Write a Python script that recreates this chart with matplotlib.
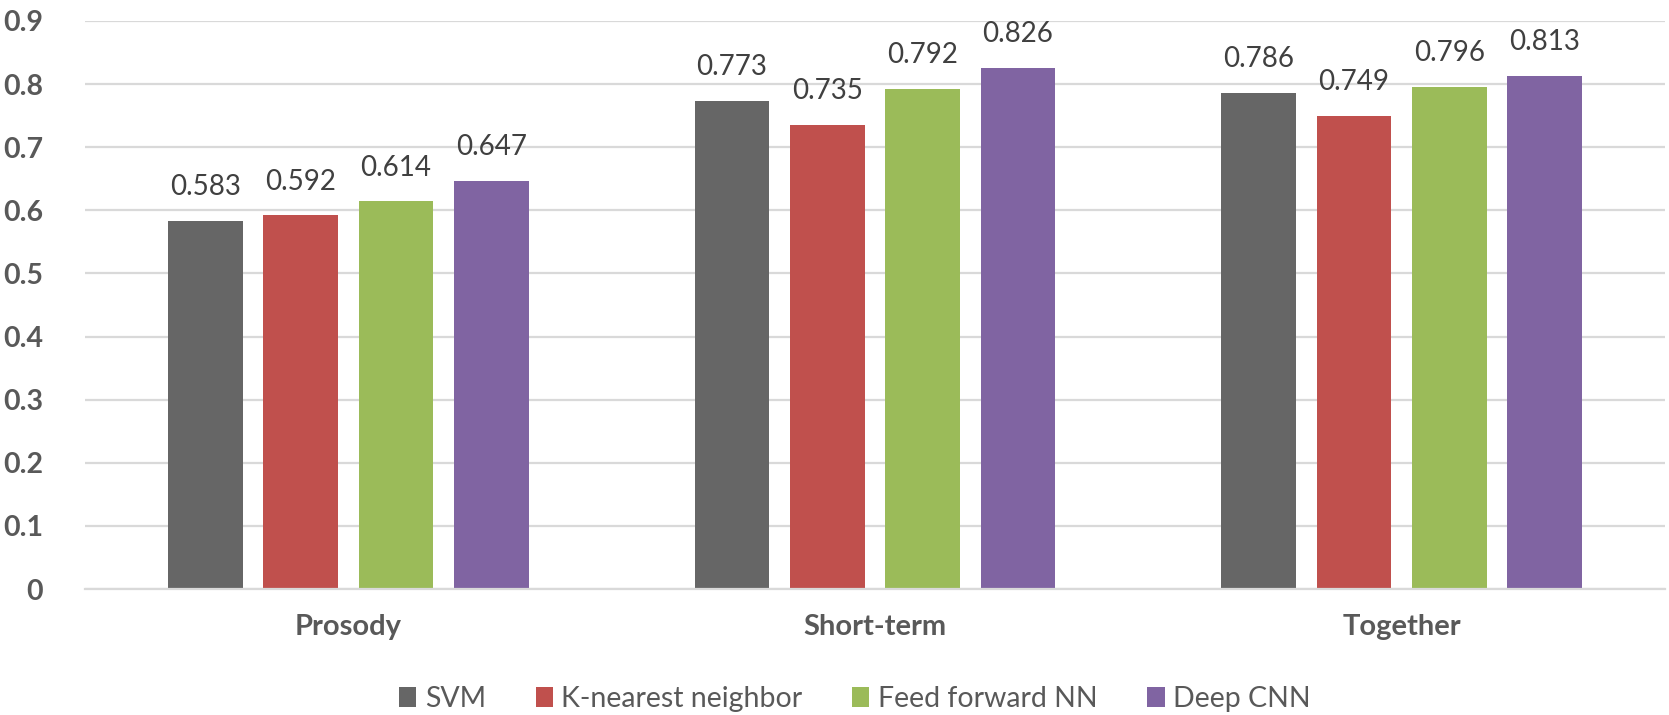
import matplotlib
matplotlib.use("Agg")
import matplotlib.pyplot as plt
import numpy as np

categories = ["Prosody", "Short-term", "Together"]
series_names = ["SVM", "K-nearest neighbor", "Feed forward NN", "Deep CNN"]
svm = [0.583, 0.773, 0.786]
knn = [0.592, 0.735, 0.749]
ffnn = [0.614, 0.792, 0.796]
dcnn = [0.647, 0.826, 0.813]
series_values = [svm, knn, ffnn, dcnn]
colors = ["#666666", "#C0504D", "#9BBB59", "#8064A2"]
yticks = [0, 0.1, 0.2, 0.3, 0.4, 0.5, 0.6, 0.7, 0.8, 0.9]
ytick_labels = ["0", "0.1", "0.2", "0.3", "0.4", "0.5", "0.6", "0.7", "0.8", "0.9"]

plt.rcParams['font.family'] = ['Lato', 'DejaVu Sans']
text_color = "#595959"

W, H = 1669, 715
fig = plt.figure(figsize=(W / 100, H / 100), dpi=100)
left, right, top, bottom = 85, 1665, 21, 589
ax = fig.add_axes([left / W, 1 - bottom / H, (right - left) / W, (bottom - top) / H])

x = np.arange(len(categories))
bar_w = 0.142
step = 0.181
for i, (name, vals, c) in enumerate(zip(series_names, series_values, colors)):
    pos = x + (i - 1.5) * step
    bars = ax.bar(pos, vals, width=bar_w, color=c, label=name, zorder=3)
    for b, v in zip(bars, vals):
        ax.annotate(f"{v:.3f}", (b.get_x() + b.get_width() / 2, v),
                    xytext=(0, 15), textcoords="offset points",
                    ha="center", va="bottom", fontsize=20, color="#404040")

ax.set_xlim(-0.5, len(categories) - 0.5)
ax.set_ylim(0, 0.9)
ax.set_yticks(yticks)
ax.set_yticklabels(ytick_labels, fontsize=20.5, fontweight="bold", color=text_color)
ax.set_xticks(x)
ax.set_xticklabels(categories, fontsize=21, fontweight="bold", color=text_color)
ax.tick_params(axis="y", length=0, pad=30)
ax.tick_params(axis="x", length=0, pad=18)
ax.yaxis.grid(True, color="#D9D9D9", linewidth=1.6, zorder=0)
ax.set_axisbelow(True)
for s in ["top", "right", "left"]:
    ax.spines[s].set_visible(False)
ax.spines["bottom"].set_color("#D9D9D9")
ax.spines["bottom"].set_linewidth(1.6)
ax.spines["bottom"].set_zorder(4)

leg = fig.legend(loc="center", bbox_to_anchor=(855 / W, 1 - 699 / H), ncol=4,
                 frameon=False, fontsize=20.5, handlelength=0.6, handleheight=0.65,
                 handletextpad=0.3, columnspacing=1.75, borderpad=0)
for t in leg.get_texts():
    t.set_color(text_color)

fig.savefig("out.png", dpi=100)
